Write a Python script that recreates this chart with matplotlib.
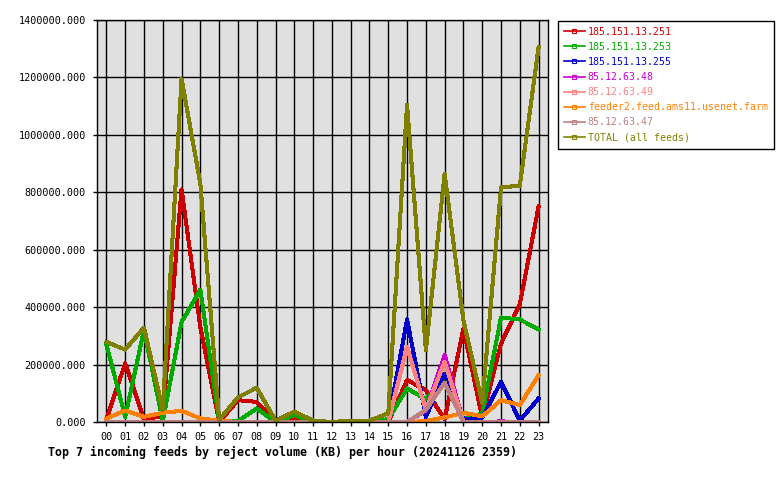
import numpy as np
import matplotlib
matplotlib.use('Agg')
import matplotlib.pyplot as plt
from matplotlib.ticker import FormatStrFormatter

hours = ['%02d' % h for h in range(24)]

feeds = ['185.151.13.251', '185.151.13.253', '185.151.13.255', '85.12.63.48',
         '85.12.63.49', 'feeder2.feed.ams11.usenet.farm', '85.12.63.47', 'TOTAL (all feeds)']
colors = ['#cc0000', '#00aa00', '#0000cc', '#cc00cc',
          '#ff8080', '#ff8000', '#c08080', '#808000']

# KB per hour
v_251 = [10000, 204000, 10000, 20000, 810000, 330000, 0, 76000, 70000, 0, 13000, 0,
         0, 0, 0, 0, 146000, 111000, 10000, 325000, 15000, 273000, 410000, 751000]
v_253 = [270000, 18000, 320000, 3000, 348000, 461000, 5000, 3000, 47000, 0, 24000, 0,
         0, 0, 0, 10000, 117000, 79000, 146000, 10000, 30000, 364000, 357000, 322000]
v_255 = [0, 0, 0, 0, 0, 0, 0, 0, 0, 0, 0, 0,
         0, 0, 0, 0, 357000, 18000, 167000, 10000, 15000, 140000, 5000, 82000]
v_48 = [0, 0, 0, 0, 0, 0, 0, 0, 0, 0, 0, 0,
        0, 0, 0, 0, 0, 40000, 233000, 0, 0, 2000, 0, 0]
v_49 = [0, 0, 0, 0, 0, 0, 0, 0, 0, 0, 0, 0,
        0, 0, 0, 0, 262000, 42000, 210000, 0, 0, 0, 0, 0]
v_feeder2 = [12000, 40000, 18000, 32000, 39000, 12000, 5000, 0, 0, 0, 0, 0,
             0, 0, 0, 0, 0, 3000, 16000, 32000, 20000, 76000, 59000, 163000]
v_47 = [0, 0, 0, 0, 0, 0, 0, 0, 0, 0, 0, 0,
        0, 0, 0, 0, 0, 42000, 137000, 0, 0, 0, 0, 0]
v_total = [279000, 252000, 329000, 42000, 1195000, 830000, 7000, 86000, 119000, 5000, 36000, 5000,
           0, 5000, 5000, 30000, 1105000, 250000, 864000, 354000, 66000, 817000, 823000, 1306000]

series = [v_251, v_253, v_255, v_48, v_49, v_feeder2, v_47, v_total]

mono = 'DejaVu Sans Mono'
plt.rcParams['font.family'] = mono

fig = plt.figure(figsize=(7.8, 4.8), dpi=100)
ax = fig.add_axes([97 / 780, 1 - 422 / 480, (548 - 97) / 780, (422 - 20) / 480])
ax.set_facecolor('#e0e0e0')

x = np.arange(24)
for name, col, vals in zip(feeds, colors, series):
    ax.plot(x, vals, color=col, linewidth=2.2, label=name, marker='s', markersize=2.5,
            markerfacecolor='none', markeredgewidth=0.8, markevery=[], antialiased=False)

ax.set_xlim(-0.5, 23.5)
ax.set_ylim(0, 1400000)
ax.set_xticks(x)
ax.set_xticklabels(hours)
ax.set_yticks(np.arange(0, 1400001, 200000))
ax.yaxis.set_major_formatter(FormatStrFormatter('%.3f'))
ax.grid(True, color='black', linewidth=1.0)
ax.set_axisbelow(True)
ax.tick_params(axis='both', length=3, width=1, labelsize=7.3, colors='black')
ax.tick_params(axis='y', pad=5)
ax.tick_params(axis='x', pad=4)
for s in ax.spines.values():
    s.set_linewidth(1.0)
    s.set_color('black')

fig.text(283 / 780, 1 - 452 / 480, 'Top 7 incoming feeds by reject volume (KB) per hour (20241126 2359)',
         ha='center', va='center', fontsize=8.35, fontweight='bold', family=mono)

handles, labels = ax.get_legend_handles_labels()
leg = fig.legend(handles, labels, loc='upper left', bbox_to_anchor=(558 / 780, 1 - 20.5 / 480),
                 frameon=True, fancybox=False, edgecolor='black', framealpha=1,
                 fontsize=7.1, handlelength=2.1, handletextpad=0.3, labelspacing=0.52,
                 borderpad=0.62, borderaxespad=0, labelcolor='linecolor', numpoints=1)
for h in leg.legend_handles:
    h.set_linewidth(1.2)
    h.set_markevery([1])
leg.get_frame().set_linewidth(1.0)

fig.savefig('out.png', dpi=100)
